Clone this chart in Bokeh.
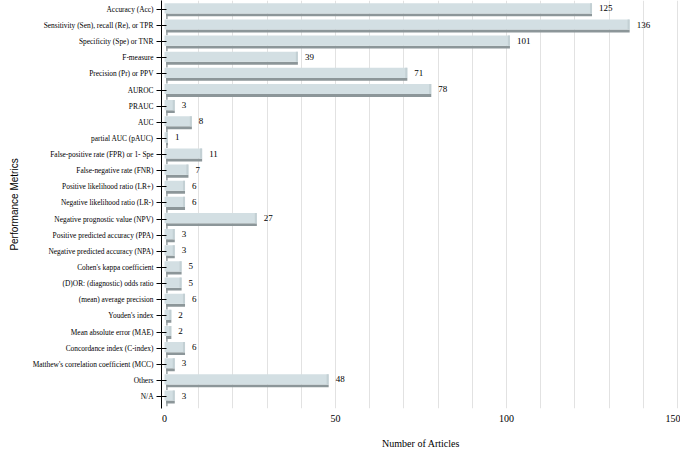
from bokeh.plotting import figure
from bokeh.models import Range1d, ColumnDataSource, FixedTicker, LabelSet
from bokeh.embed import file_html
from bokeh.resources import INLINE

categories = [
    "Accuracy (Acc)",
    "Sensitivity (Sen), recall (Re), or TPR",
    "Specificity (Spe) or TNR",
    "F-measure",
    "Precision (Pr) or PPV",
    "AUROC",
    "PRAUC",
    "AUC",
    "partial AUC (pAUC)",
    "False-positive rate (FPR) or 1- Spe",
    "False-negative rate (FNR)",
    "Positive likelihood ratio (LR+)",
    "Negative likelihood ratio (LR-)",
    "Negative prognostic value (NPV)",
    "Positive predicted accuracy (PPA)",
    "Negative predicted accuracy (NPA)",
    "Cohen's kappa coefficient",
    "(D)OR: (diagnostic) odds ratio",
    "(mean) average precision",
    "Youden's index",
    "Mean absolute error (MAE)",
    "Concordance index (C-index)",
    "Matthew's correlation coefficient (MCC)",
    "Others",
    "N/A",
]
counts = [125, 136, 101, 39, 71, 78, 3, 8, 1, 11, 7, 6, 6, 27, 3, 3, 5, 5, 6, 2, 2, 6, 3, 48, 3]
x_ticks = [0, 50, 100, 150]

n = len(categories)
ypos = [n - 1 - i for i in range(n)]

src = ColumnDataSource(dict(
    y=ypos,
    v=counts,
    zero=[0] * n,
    sh_left=[0.5] * n,
    tick_right=[0.9] * n,
    tick_bot=[y - 0.6 for y in ypos],
    main_bot=[y - 0.25 for y in ypos],
    main_top=[y + 0.38 for y in ypos],
    sh_bot=[y - 0.43 for y in ypos],
    sh_top=[y - 0.25 for y in ypos],
    bev_left=[max(v - 0.6, 0) for v in counts],
    lab=[str(v) for v in counts],
))

p = figure(width=680, height=451, output_backend="svg", toolbar_location=None,
           x_range=Range1d(-0.88, 150.87), y_range=Range1d(-0.74, 24.55),
           min_border_left=161, min_border_right=0, min_border_top=0, min_border_bottom=40)
p.outline_line_color = None
p.background_fill_color = "white"

# shadow strip
p.quad(left="sh_left", right="v", bottom="sh_bot", top="sh_top", source=src,
       fill_color="#8c9699", line_color=None)
# small left tick of shadow
p.quad(left="sh_left", right="tick_right", bottom="tick_bot", top="sh_top", source=src,
       fill_color="#8c9699", line_color=None)
# main face
p.quad(left="zero", right="v", bottom="main_bot", top="main_top", source=src,
       fill_color="#d3dfe3", line_color=None)
# right bevel
p.quad(left="bev_left", right="v", bottom="main_bot", top="main_top", source=src,
       fill_color="#c3d0d4", line_color=None)

labels = LabelSet(x="v", y="y", text="lab", source=src, x_offset=7, y_offset=1,
                  text_font="Liberation Serif", text_font_size="9px",
                  text_baseline="middle", text_color="black")
p.add_layout(labels)

# x axis
p.xaxis.ticker = FixedTicker(ticks=x_ticks)
p.xaxis.axis_line_color = None
p.xaxis.major_tick_line_color = None
p.xaxis.major_tick_in = 0
p.xaxis.major_tick_out = 0
p.xaxis.minor_tick_line_color = None
p.xaxis.major_label_text_font = "Liberation Serif"
p.xaxis.major_label_text_font_size = "10px"
p.xaxis.major_label_text_color = "black"
p.xaxis.major_label_standoff = 6
p.xaxis.axis_label = "Number of Articles"
p.xaxis.axis_label_text_font = "Liberation Serif"
p.xaxis.axis_label_text_font_size = "10px"
p.xaxis.axis_label_text_font_style = "normal"
p.xaxis.axis_label_text_color = "black"
p.xaxis.axis_label_standoff = 13

p.xgrid.ticker = FixedTicker(ticks=list(range(10, 160, 10)))
p.xgrid.grid_line_color = "#e2e2e2"
p.ygrid.grid_line_color = None

# y axis
p.yaxis.ticker = FixedTicker(ticks=ypos)
p.yaxis.major_label_overrides = {y: c for y, c in zip(ypos, categories)}
p.yaxis.axis_line_color = "black"
p.yaxis.major_tick_line_color = "black"
p.yaxis.major_tick_in = 5
p.yaxis.major_tick_out = 5
p.yaxis.minor_tick_line_color = None
p.yaxis.major_label_text_font = "Liberation Serif"
p.yaxis.major_label_text_font_size = "7.4px"
p.yaxis.major_label_text_color = "black"
p.yaxis.major_label_standoff = 3
p.yaxis.axis_label = "Performance Metrics"
p.yaxis.axis_label_text_font = "Liberation Sans"
p.yaxis.axis_label_text_font_size = "10px"
p.yaxis.axis_label_text_font_style = "normal"
p.yaxis.axis_label_text_color = "black"
p.yaxis.axis_label_standoff = 10

open("out.html", "w").write(file_html(p, INLINE))
